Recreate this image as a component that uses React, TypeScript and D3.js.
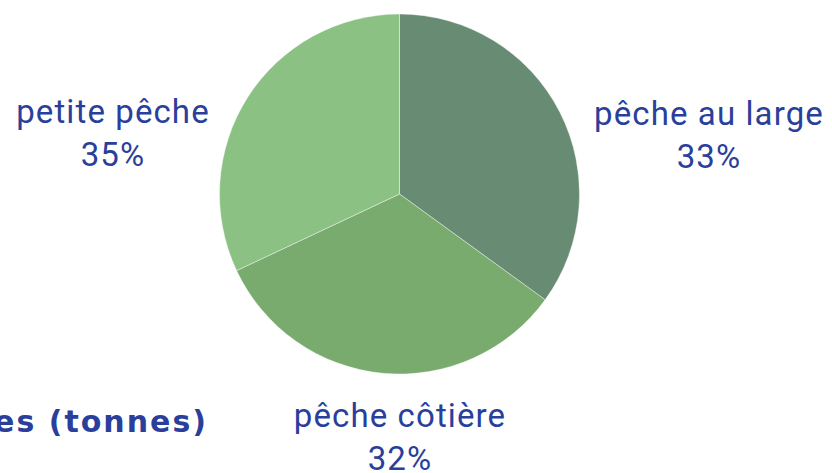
import React from "react";
import * as d3 from "d3";

const categories = ["pêche au large", "pêche côtière", "petite pêche"];
const shares = [35, 33, 32];
const pctLabels = ["33%", "32%", "35%"];
const colors = ["#688c73", "#79aa6e", "#8bc284"];
const title = "es (tonnes)";

const W = 832;
const H = 473;
const cx = 399.5;
const cy = 194;
const R = 180;
const labelPos = [
  { x: 709, y: 125 },
  { x: 400, y: 427 },
  { x: 113, y: 123 },
];

export default function App() {
  const pie = d3.pie<number>().sort(null).value((d) => d)(shares);
  const arc = d3.arc<d3.PieArcDatum<number>>().innerRadius(0).outerRadius(R);
  const blue = "#2a3f9b";
  return (
    <svg
      width={W}
      height={H}
      style={{ position: "absolute", left: 0, top: 0, background: "#fff" }}
    >
      <g transform={`translate(${cx},${cy})`}>
        {pie.map((p, i) => (
          <path key={i} d={arc(p) || ""} fill={colors[i]} stroke="#ffffff" strokeWidth={0.4} />
        ))}
      </g>
      {categories.map((c, i) => (
        <g
          key={c}
          fontFamily="Roboto, sans-serif"
          fontWeight={400}
          fontSize={33}
          letterSpacing={1.1}
          fill={blue}
          textAnchor="middle"
        >
          <text x={labelPos[i].x} y={labelPos[i].y}>{c}</text>
          <text x={labelPos[i].x} y={labelPos[i].y + 43}>{pctLabels[i]}</text>
        </g>
      ))}
      <text
        x={208}
        y={432}
        textAnchor="end"
        fontFamily="'DejaVu Sans', sans-serif"
        fontWeight={700}
        fontSize={30}
        letterSpacing={2}
        fill={blue}
      >
        {title}
      </text>
    </svg>
  );
}
